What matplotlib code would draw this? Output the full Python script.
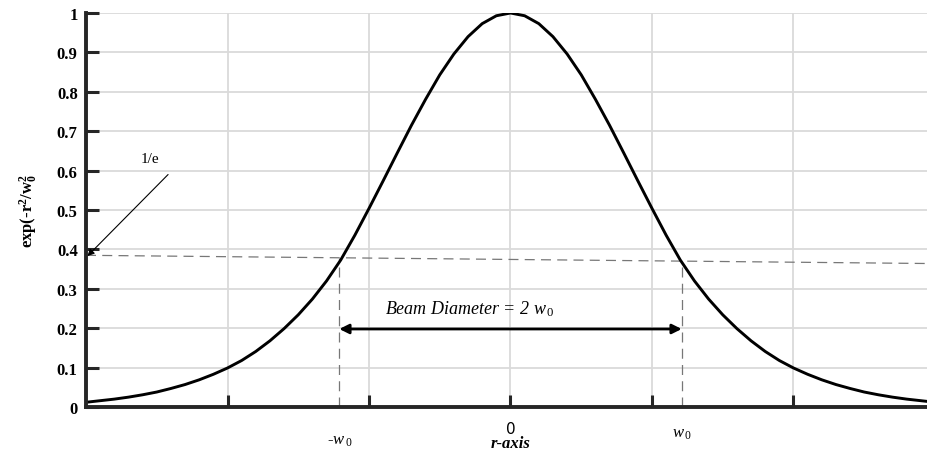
import numpy as np
import matplotlib
matplotlib.use("Agg")
import matplotlib.pyplot as plt

plt.rcParams['font.family'] = ['Liberation Serif', 'DejaVu Serif']
plt.rcParams['mathtext.fontset'] = 'custom'
plt.rcParams['mathtext.rm'] = 'Liberation Serif'
plt.rcParams['mathtext.it'] = 'Liberation Serif:italic'
plt.rcParams['mathtext.bf'] = 'Liberation Serif:bold'

# beam profile (left half, r in grid units, mirrored below)
r_half = [-3.0, -2.9, -2.8, -2.7, -2.6, -2.5, -2.4, -2.3, -2.2, -2.1,
          -2.0, -1.9, -1.8, -1.7, -1.6, -1.5, -1.4, -1.3, -1.2, -1.1,
          -1.0, -0.9, -0.8, -0.7, -0.6, -0.5, -0.4, -0.3, -0.2, -0.1, 0.0]
I_half = [0.012, 0.016, 0.020, 0.025, 0.031, 0.038, 0.047, 0.057, 0.069, 0.083,
          0.099, 0.118, 0.141, 0.168, 0.199, 0.234, 0.274, 0.320, 0.373, 0.436,
          0.504, 0.574, 0.645, 0.715, 0.781, 0.843, 0.896, 0.940, 0.973, 0.993, 1.0]

r_vals = r_half + [-v for v in r_half[-2::-1]]
I_vals = I_half + I_half[-2::-1]

w0 = 1.21                      # where the curve meets the 1/e line
efold_left, efold_right = 0.385, 0.364   # the dashed 1/e line (slightly tilted in the original)
diam_level = 0.198

yticks = [0, 0.1, 0.2, 0.3, 0.4, 0.5, 0.6, 0.7, 0.8, 0.9, 1]
ytick_labels = ['0', '0.1', '0.2', '0.3', '0.4', '0.5', '0.6', '0.7', '0.8', '0.9', '1']
xticks = [-2, -1, 0, 1, 2]

fig = plt.figure(figsize=(9.28, 4.64), dpi=100)
ax = fig.add_axes([86 / 928, 56 / 464, (935 - 86) / 928, 394 / 464])

ax.set_xlim(-3, 3)
ax.set_ylim(0, 1)

# grid
for yv in yticks[1:]:
    ax.axhline(yv, color='#dadada', lw=1.3, zorder=0)
for xv in xticks:
    ax.axvline(xv, color='#dadada', lw=1.3, zorder=0)

# curve
ax.plot(r_vals, I_vals, color='black', lw=2.1, zorder=3, solid_joinstyle='round')

# 1/e line and beam width markers
ax.plot([-3, 3], [efold_left, efold_right], color='#777777', lw=0.9, ls=(0, (8, 5)), zorder=2)
ax.plot([-w0, -w0], [0, 0.378], color='#777777', lw=0.9, ls=(0, (8, 5)), zorder=2)
ax.plot([w0, w0], [0, 0.370], color='#777777', lw=0.9, ls=(0, (8, 5)), zorder=2)

ax.annotate('', xy=(w0, diam_level), xytext=(-w0, diam_level),
            arrowprops=dict(arrowstyle='<|-|>', color='black', lw=2,
                            mutation_scale=14, shrinkA=0, shrinkB=0), zorder=4)
ax.text(-0.29, 0.250, r'Beam Diameter = 2 w$_{\,0}$', fontsize=13, style='italic',
        ha='center', va='center')

ax.text(-2.55, 0.63, '1/e', fontsize=11, ha='center', va='center')
ax.annotate('', xy=(-2.99, 0.383), xytext=(-2.42, 0.59),
            arrowprops=dict(arrowstyle='-|>', color='black', lw=0.8,
                            mutation_scale=10, shrinkA=0, shrinkB=0))

# axes styling
for side in ['top', 'right']:
    ax.spines[side].set_visible(False)
for side in ['left', 'bottom']:
    ax.spines[side].set_linewidth(2.8)
    ax.spines[side].set_color('#262626')
    ax.spines[side].set_zorder(5)

ax.set_yticks(yticks)
ax.set_yticklabels(ytick_labels, fontweight='bold', fontsize=12)
ax.set_xticks(xticks)
ax.set_xticklabels(['', '', '0', '', ''], fontsize=11, family='DejaVu Sans')
ax.tick_params(axis='both', direction='in', length=9, width=2.2, color='#262626')
ax.tick_params(axis='x', pad=10)
ax.tick_params(axis='y', pad=6)

ax.set_ylabel(r'exp(-r$^{\mathbf{2}}$/w$_{\mathbf{0}}^{\mathbf{2}}$', fontweight='bold',
              fontsize=12, labelpad=12)

ax.text(0, -0.092, 'r-axis', fontsize=12, fontweight='bold', style='italic',
        ha='center', va='center', clip_on=False)
ax.text(-w0, -0.085, r'-w$_{\,0}$', fontsize=12, style='italic',
        ha='center', va='center', clip_on=False)
ax.text(w0, -0.065, r'w$_{\,0}$', fontsize=12, style='italic',
        ha='center', va='center', clip_on=False)

fig.savefig('out.png', dpi=100)
